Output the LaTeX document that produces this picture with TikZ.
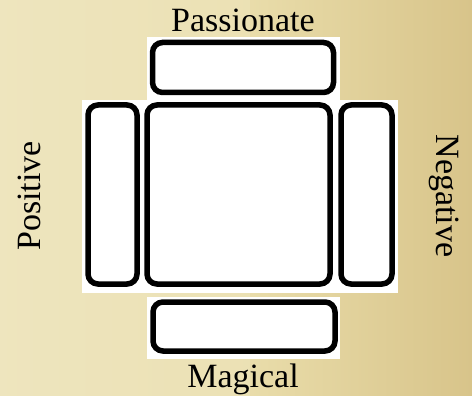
\documentclass[tikz,border=0pt]{standalone}
\usepackage{fontspec}
\setmainfont{Liberation Serif}
\definecolor{parchL}{RGB}{238,229,190}
\definecolor{parchM}{RGB}{234,222,172}
\definecolor{parchR}{RGB}{216,196,138}
\tikzset{
  slot/.style={draw=black, line width=5.5pt, rounded corners=10pt, fill=white, inner sep=0pt, outer sep=0pt},
  bgpad/.style={fill=white, draw=none},
  lbl/.style={font=\fontsize{34}{40}\selectfont, text=black, inner sep=0pt, anchor=base}
}
\begin{document}
\begin{tikzpicture}[x=1pt,y=-1pt]
\useasboundingbox (0,0) rectangle (472,396);
\shade[left color=parchL, right color=parchR, middle color=parchM] (0,0) rectangle (472,396);
\fill[parchL, opacity=0.5] (0,0) rectangle (250,396);
% white backgrounds
\fill[white] (147,37) rectangle (340,100);
\fill[white] (82,100) rectangle (398,293);
\fill[white] (147,297) rectangle (340,359);
% boxes
\node[slot, minimum width=181pt, minimum height=50pt] (top) at (243,67.5) {};
\node[slot, minimum width=49pt, minimum height=179pt] (left) at (112.5,194.5) {};
\node[slot, minimum width=183pt, minimum height=179pt] (center) at (238.5,194.5) {};
\node[slot, minimum width=51pt, minimum height=179pt] (right) at (366.5,194.5) {};
\node[slot, minimum width=182pt, minimum height=49pt] (bottom) at (244,326.5) {};
% labels
\node[lbl] (passionate) at (243,32) {Passionate};
\node[lbl] (magical) at (243,387) {Magical};
\node[lbl, rotate=90] (positive) at (41,196) {Positive};
\node[lbl, rotate=-90] (negative) at (436,196) {Negative};
\end{tikzpicture}
\end{document}
